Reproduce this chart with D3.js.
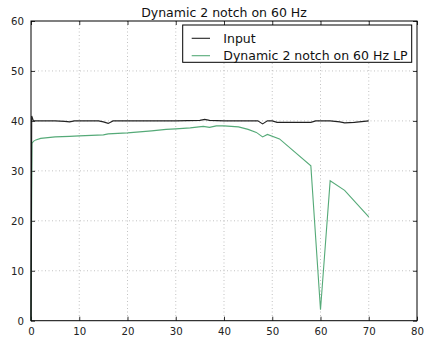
<!DOCTYPE html>
<html>
<head>
<meta charset="utf-8">
<script src="https://cdn.jsdelivr.net/npm/d3@7"></script>
<style>
  html, body { margin: 0; padding: 0; background: #fff; }
  svg { display: block; font-family: "DejaVu Sans", sans-serif; }
</style>
</head>
<body>
<svg id="chart" width="436" height="342"></svg>
<script>
// Series samples (frequency in Hz, level)
const inputX = [0, 0.15, 0.5, 2, 5, 7, 8, 9, 10, 14, 15, 16, 17, 20, 25, 30, 35, 36, 37, 40, 45, 47, 48, 49, 50, 51, 55, 58, 59, 62, 64, 65, 67, 70];
const inputY = [0, 41, 40.0, 40, 40, 39.9, 39.8, 40, 40, 40, 39.8, 39.5, 40, 40, 40, 40, 40.1, 40.3, 40.1, 40, 40, 40, 39.4, 40, 40, 39.7, 39.7, 39.7, 40, 40, 39.8, 39.6, 39.7, 40];

const lpX = [0, 0.2, 0.5, 1, 2, 3, 5, 8, 10, 15, 16, 20, 25, 28, 30, 33, 35.7, 37, 38.4, 40, 43, 45, 46.7, 48, 49, 51.5, 58, 60, 62, 65, 70];
const lpY = [0, 35.5, 35.9, 36.2, 36.5, 36.6, 36.8, 36.9, 37.0, 37.2, 37.4, 37.6, 38.0, 38.3, 38.4, 38.6, 38.9, 38.7, 39.0, 39.0, 38.8, 38.3, 37.7, 36.8, 37.3, 36.4, 31, 2.2, 28, 26.1, 20.8];

const xTicks = [0, 10, 20, 30, 40, 50, 60, 70, 80];
const yTicks = [0, 10, 20, 30, 40, 50, 60];

const titleText = "Dynamic 2 notch on 60 Hz";
const seriesNames = ["Input", "Dynamic 2 notch on 60 Hz LP"];
const seriesColors = ["#222222", "#55aa78"];

const plot = { left: 31, right: 417, top: 21, bottom: 320.7 };

const svg = d3.select("#chart");
const x = d3.scaleLinear().domain([0, 80]).range([plot.left, plot.right]);
const y = d3.scaleLinear().domain([0, 60]).range([plot.bottom, plot.top]);

// grid
const grid = svg.append("g").attr("stroke", "#999").attr("stroke-width", 0.6).attr("stroke-dasharray", "1,2.5");
grid.selectAll("line.gx").data(xTicks.slice(1, -1)).join("line")
  .attr("x1", d => x(d)).attr("x2", d => x(d)).attr("y1", plot.top).attr("y2", plot.bottom);
grid.selectAll("line.gy").data(yTicks.slice(1, -1)).join("line")
  .attr("y1", d => y(d)).attr("y2", d => y(d)).attr("x1", plot.left).attr("x2", plot.right);

// axes with inward ticks
const bottomAxis = d3.axisBottom(x).tickValues(xTicks).tickSizeInner(-4).tickSizeOuter(0).tickPadding(7).tickFormat(d3.format("d"));
const leftAxis = d3.axisLeft(y).tickValues(yTicks).tickSizeInner(-4).tickSizeOuter(0).tickPadding(7).tickFormat(d3.format("d"));
const topAxis = d3.axisTop(x).tickValues(xTicks).tickSizeInner(-4).tickSizeOuter(0).tickFormat("");
const rightAxis = d3.axisRight(y).tickValues(yTicks).tickSizeInner(-4).tickSizeOuter(0).tickFormat("");

function styleAxis(g) {
  g.select(".domain").remove();
  g.selectAll(".tick line").attr("stroke", "#000").attr("stroke-width", 0.8);
  g.selectAll(".tick text").attr("font-size", 10.2).attr("fill", "#222").attr("font-family", "DejaVu Sans");
}
svg.append("g").attr("transform", `translate(0,${plot.bottom})`).call(bottomAxis).call(styleAxis);
svg.append("g").attr("transform", `translate(${plot.left},0)`).call(leftAxis).call(styleAxis)
  .selectAll(".tick text").attr("dy", "0.35em");
svg.append("g").attr("transform", `translate(0,${plot.top})`).call(topAxis).call(styleAxis);
svg.append("g").attr("transform", `translate(${plot.right},0)`).call(rightAxis).call(styleAxis);

// series
const line = d3.line().x(d => x(d[0])).y(d => y(d[1]));
const inputData = inputX.map((v, i) => [v, inputY[i]]);
const lpData = lpX.map((v, i) => [v, lpY[i]]);
svg.append("path").datum(lpData).attr("d", line).attr("fill", "none")
  .attr("stroke", seriesColors[1]).attr("stroke-width", 1.1);
svg.append("path").datum(inputData).attr("d", line).attr("fill", "none")
  .attr("stroke", seriesColors[0]).attr("stroke-width", 1.1);

// frame
svg.append("rect").attr("x", plot.left).attr("y", plot.top)
  .attr("width", plot.right - plot.left).attr("height", plot.bottom - plot.top)
  .attr("fill", "none").attr("stroke", "#000").attr("stroke-width", 1);

// title
svg.append("text").attr("x", (plot.left + plot.right) / 2).attr("y", 16.5)
  .attr("text-anchor", "middle").attr("font-size", 12.5).attr("fill", "#111").text(titleText);

// legend
const legend = svg.append("g");
legend.append("rect").attr("x", 182.7).attr("y", 25).attr("width", 229).attr("height", 37.3)
  .attr("fill", "#fff").attr("stroke", "#000").attr("stroke-width", 1);
const rows = legend.selectAll("g.row").data(seriesNames).join("g")
  .attr("transform", (d, i) => `translate(0,${38.3 + i * 17.4})`);
rows.append("line").attr("x1", 191.7).attr("x2", 210).attr("y1", 0).attr("y2", 0)
  .attr("stroke", (d, i) => seriesColors[i]).attr("stroke-width", 1.1);
rows.append("text").attr("x", 223.3).attr("y", 4.5).attr("font-size", 12.5).attr("fill", "#111").text(d => d);
</script>
</body>
</html>
